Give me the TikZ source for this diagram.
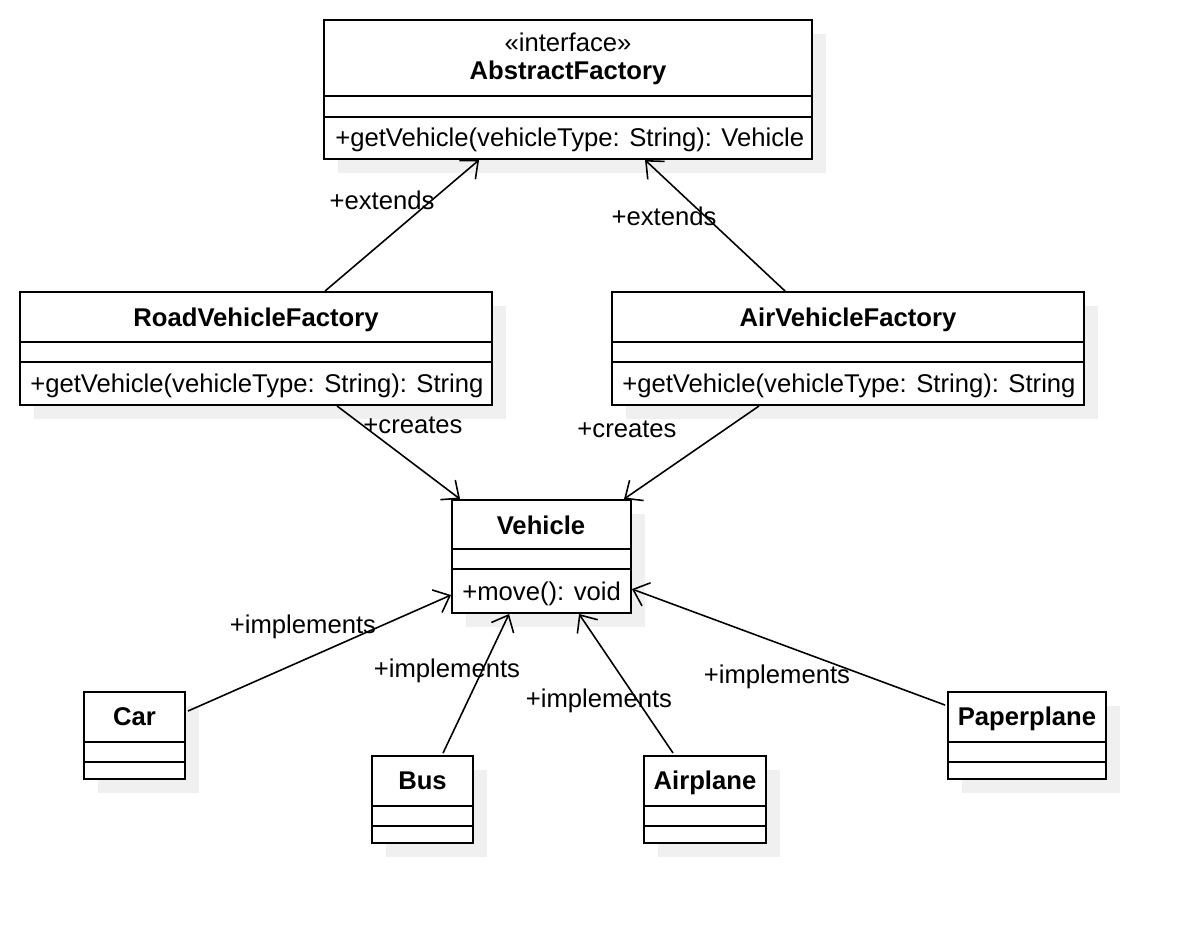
\documentclass[tikz,border=0pt]{standalone}
\usepackage{fontspec}
\setmainfont{Liberation Sans}
\usetikzlibrary{
    arrows.meta,
    calc,
    fit,
    shadows
}
\tikzset{
    classbox/.style={draw, line width=1.1pt, inner sep=0pt, fill=white,
        drop shadow={shadow xshift=0.28cm, shadow yshift=-0.28cm, fill=black!6, opacity=1}},
    divider/.style={line width=1.1pt},
    lbl/.style={inner sep=0pt, text height=0.72em, text depth=0pt, yshift=-1.6pt},
    classname/.style={lbl, font=\fontsize{14.6}{17}\selectfont\bfseries},
    member/.style={lbl, anchor=west},
    assoc/.style={line width=0.9pt, -{Straight Barb[length=8pt, width=14pt]}}
}
\begin{document}
\begin{tikzpicture}[x=0.02cm, y=-0.02cm, font=\fontsize{14.6}{17}\selectfont]
    \useasboundingbox (0,0) rectangle (1186,924);

    % Interface on top
    \node[classbox, fit={(324,20) (812,159)}] (abstract) {};
    \draw[divider] (324,96) -- (812,96);
    \draw[divider] (324,117) -- (812,117);
    \node[lbl] (abstract-stereo) at (568,42) {«interface»};
    \node[classname] (abstract-title) at (568,70) {AbstractFactory};
    \node[member] (abstract-op) at (335,137) {+getVehicle(vehicleType: String): Vehicle};

    % Concrete factories
    \node[classbox, fit={(20,292) (492,405)}] (road) {};
    \draw[divider] (20,342) -- (492,342);
    \draw[divider] (20,362) -- (492,362);
    \node[classname] (road-title) at (256,317) {RoadVehicleFactory};
    \node[member] (road-op) at (30,383) {+getVehicle(vehicleType: String): String};

    \node[classbox, fit={(612,292) (1084,405)}] (air) {};
    \draw[divider] (612,342) -- (1084,342);
    \draw[divider] (612,362) -- (1084,362);
    \node[classname] (air-title) at (848,317) {AirVehicleFactory};
    \node[member] (air-op) at (622,383) {+getVehicle(vehicleType: String): String};

    % Product
    \node[classbox, fit={(452,500) (631,613)}] (vehicle) {};
    \draw[divider] (452,549) -- (631,549);
    \draw[divider] (452,569) -- (631,569);
    \node[classname] (vehicle-title) at (541,525) {Vehicle};
    \node[member] (vehicle-op) at (462,591) {+move(): void};

    % Concrete products
    \foreach \name/\label/\xa/\ya/\xb in {car/Car/84/692/185, bus/Bus/372/756/473,
        airplane/Airplane/644/756/766, paperplane/Paperplane/948/692/1106} {
        \node[classbox, fit={(\xa,\ya) (\xb,\ya+87)}] (\name) {};
        \draw[divider] (\xa,\ya+50) -- (\xb,\ya+50);
        \draw[divider] (\xa,\ya+70) -- (\xb,\ya+70);
        \node[classname] (\name-title) at ({(\xa+\xb)/2},\ya+24) {\label};
    }

    % Relations
    \draw[assoc] ($(road.north west)+(306,0)$) -- ($(abstract.south west)+(156,0)$);
    \draw[assoc] ($(air.north west)+(174,0)$) -- ($(abstract.south west)+(322,0)$);
    \draw[assoc] ($(road.south west)+(318,0)$) -- ($(vehicle.north west)+(9,0)$);
    \draw[assoc] ($(air.south west)+(148,0)$) -- ($(vehicle.north west)+(173,0)$);
    \draw[assoc] ($(car.north east)+(2,20)$) -- ($(vehicle.north west)+(0,96)$);
    \draw[assoc] ($(bus.north west)+(72,-2)$) -- ($(vehicle.south west)+(58,0)$);
    \draw[assoc] ($(airplane.north west)+(30,-2)$) -- ($(vehicle.south west)+(128,0)$);
    \draw[assoc] ($(paperplane.north west)+(-2,14)$) -- ($(vehicle.north east)+(0,90)$);

    \node[lbl] (ext-road) at (382,200) {+extends};
    \node[lbl] (ext-air) at (664,216) {+extends};
    \node[lbl] (cr-road) at (413,424) {+creates};
    \node[lbl] (cr-air) at (627,428) {+creates};
    \node[lbl] (impl-car) at (303,624) {+implements};
    \node[lbl] (impl-bus) at (447,668) {+implements};
    \node[lbl] (impl-airplane) at (599,698) {+implements};
    \node[lbl] (impl-paper) at (777,674) {+implements};
\end{tikzpicture}
\end{document}
